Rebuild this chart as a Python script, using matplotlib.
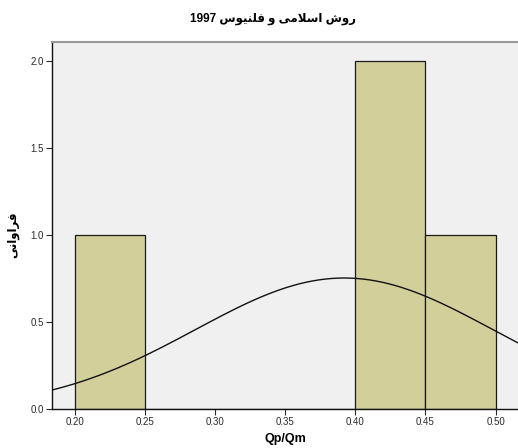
import numpy as np
import matplotlib
matplotlib.use("Agg")
import matplotlib.pyplot as plt

# Histogram of Qp/Qm with a fitted normal curve
bin_edges = [0.20, 0.25, 0.30, 0.35, 0.40, 0.45, 0.50]
bin_counts = [1, 0, 0, 0, 2, 1]
n_obs = 4
curve_mean = 0.392
curve_sd = 0.106

x_ticks = [0.20, 0.25, 0.30, 0.35, 0.40, 0.45, 0.50]
y_ticks = [0.0, 0.5, 1.0, 1.5, 2.0]

# Persian strings, pre-shaped (Arabic presentation forms) in visual order,
# since matplotlib does no bidi/joining itself.
title_text = ("1997 "
              "\uFEB1\uFEEE\uFEF4\uFEE8\uFEE0\uFED3 "   # فلنیوس
              "\uFEED "                                  # و
              "\uFEF0\uFEE3\uFEFC\uFEB3\uFE8D "          # اسلامی
              "\uFEB5\uFEED\uFEAD")                      # روش
ylabel_text = "\uFEF0\uFEE7\uFE8D\uFEED\uFE8D\uFEAE\uFED3"  # فراوانی
xlabel_text = "Qp/Qm"

fonts = ["Liberation Sans", "DejaVu Sans"]
plt.rcParams["font.family"] = fonts

fig = plt.figure(figsize=(5.18, 4.48), dpi=100)
ax = fig.add_axes([52 / 518, 1 - 409 / 448, 1 - 52 / 518, (409 - 42) / 448])
ax.set_facecolor("#F0F0F0")

widths = np.diff(bin_edges)
ax.bar(bin_edges[:-1], bin_counts, width=widths, align="edge",
       color="#D3CF9B", edgecolor="#1a1a1a", linewidth=0.9, zorder=2)

xs = np.linspace(0.17, 0.53, 400)
bw = widths[0]
ys = n_obs * bw / (curve_sd * np.sqrt(2 * np.pi)) * np.exp(-0.5 * ((xs - curve_mean) / curve_sd) ** 2)
ax.plot(xs, ys, color="#111111", linewidth=1.0, zorder=3)

ax.set_xlim(0.1836, 0.516)
ax.set_ylim(0.0, 2.109)
ax.set_xticks(x_ticks)
ax.set_xticklabels([f"{v:.2f}" for v in x_ticks])
ax.set_yticks(y_ticks)
ax.set_yticklabels([f"{v:.1f}" for v in y_ticks])
ax.tick_params(axis="both", direction="out", length=4, width=0.8,
               labelsize=7, colors="#2a2a2a", pad=2)

for side in ("left", "bottom"):
    ax.spines[side].set_color("#111111")
    ax.spines[side].set_linewidth(1.0)
ax.spines["top"].set_color("#999999")
ax.spines["top"].set_linewidth(1.5)
ax.spines["right"].set_visible(False)

ax.set_xlabel(xlabel_text, fontsize=9, fontweight="bold", family=fonts)
ax.xaxis.set_label_coords(0.5, -0.066)
ax.set_ylabel(ylabel_text, fontsize=8.5, fontweight="bold", family=fonts)
ax.yaxis.set_label_coords(-0.071, 0.475)

fig.text(273.5 / 518, 1 - 19 / 448, title_text, ha="center", va="center",
         fontsize=8.5, fontweight="bold", family=fonts)

fig.savefig("out.png", dpi=100)
